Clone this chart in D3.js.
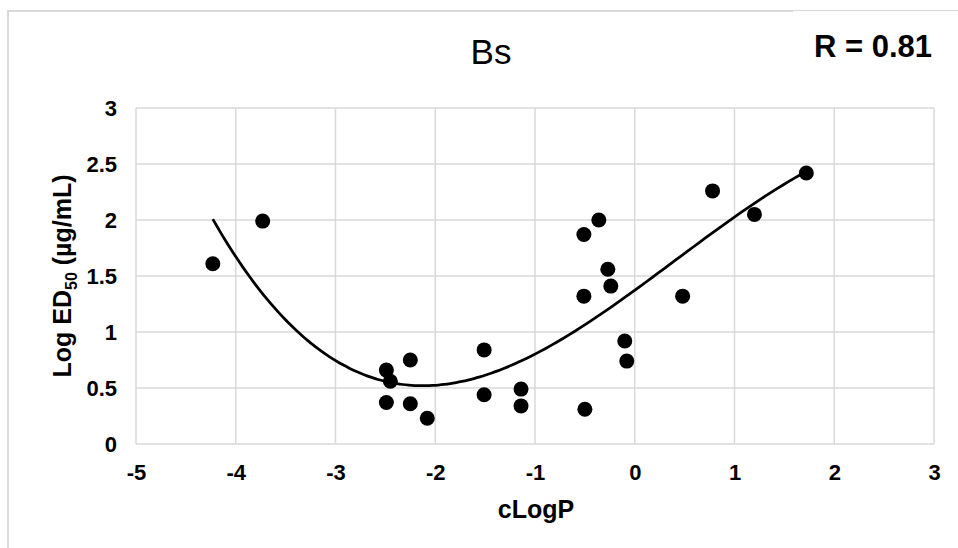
<!DOCTYPE html>
<html>
<head>
<meta charset="utf-8">
<script src="https://cdn.jsdelivr.net/npm/d3@7"></script>
<style>
  body { margin: 0; background: #fff; }
  svg { display: block; font-family: Arial, "Liberation Sans", sans-serif; }
</style>
</head>
<body>
<div id="chart"></div>
<script>
// cLogP vs Log ED50, Bs
var clogp = [-4.23, -3.73, -2.49, -2.45, -2.49, -2.25, -2.25, -2.08, -1.51, -1.51,
             -1.14, -1.14, -0.51, -0.36, -0.27, -0.24, -0.51, -0.10, -0.08, -0.50,
             0.48, 0.78, 1.20, 1.72];
var logED = [1.61, 1.99, 0.66, 0.56, 0.37, 0.75, 0.36, 0.23, 0.84, 0.44,
             0.49, 0.34, 1.87, 2.00, 1.56, 1.41, 1.32, 0.92, 0.74, 0.31,
             1.32, 2.26, 2.05, 2.42];
var xTicks = [-5, -4, -3, -2, -1, 0, 1, 2, 3];
var yTicks = [0, 0.5, 1, 1.5, 2, 2.5, 3];
var title = "Bs";
var rLabel = "R = 0.81";

var width = 958, height = 548;
var gridColor = "#d9d9d9";

var xScale = d3.scaleLinear().domain([-5, 3]).range([136, 934]);
var yScale = d3.scaleLinear().domain([0, 3]).range([444, 108]);

// cubic least-squares trendline (like the spreadsheet one)
function polyFit(xs, ys, order) {
  var n = order + 1, A = [], b = [];
  for (var i = 0; i < n; i++) {
    A.push([]);
    for (var j = 0; j < n; j++) A[i].push(d3.sum(xs, function(x) { return Math.pow(x, i + j); }));
    b.push(d3.sum(xs, function(x, k) { return ys[k] * Math.pow(x, i); }));
  }
  for (var c = 0; c < n; c++) {
    var p = c;
    for (var r = c + 1; r < n; r++) if (Math.abs(A[r][c]) > Math.abs(A[p][c])) p = r;
    var t = A[c]; A[c] = A[p]; A[p] = t; t = b[c]; b[c] = b[p]; b[p] = t;
    for (var r2 = c + 1; r2 < n; r2++) {
      var f = A[r2][c] / A[c][c];
      for (var k = c; k < n; k++) A[r2][k] -= f * A[c][k];
      b[r2] -= f * b[c];
    }
  }
  var coef = new Array(n);
  for (var r3 = n - 1; r3 >= 0; r3--) {
    var s = b[r3];
    for (var k2 = r3 + 1; k2 < n; k2++) s -= A[r3][k2] * coef[k2];
    coef[r3] = s / A[r3][r3];
  }
  return coef;
}
var coef = polyFit(clogp, logED, 3);
function trend(x) { return coef[0] + coef[1] * x + coef[2] * x * x + coef[3] * x * x * x; }
var xMin = d3.min(clogp), xMax = d3.max(clogp);
var trendPts = d3.range(0, 101).map(function(i) {
  var x = xMin + (xMax - xMin) * i / 100;
  return [x, trend(x)];
});

var svg = d3.select("#chart").append("svg")
  .attr("width", width)
  .attr("height", height);

svg.append("rect")
  .attr("width", width).attr("height", height)
  .attr("fill", "#fff");

// outer frame
svg.append("path")
  .attr("d", "M8,560 L8,11 L793,11")
  .attr("fill", "none")
  .attr("stroke", gridColor)
  .attr("stroke-width", 2);
svg.append("line")
  .attr("x1", 793).attr("x2", 958)
  .attr("y1", 10.5).attr("y2", 10.5)
  .attr("stroke", gridColor)
  .attr("stroke-width", 1);

// gridlines
svg.append("g").selectAll("line")
  .data(xTicks).enter().append("line")
  .attr("x1", function(d) { return xScale(d); })
  .attr("x2", function(d) { return xScale(d); })
  .attr("y1", yScale(0)).attr("y2", yScale(3))
  .attr("stroke", gridColor).attr("stroke-width", 1.5);
svg.append("g").selectAll("line")
  .data(yTicks).enter().append("line")
  .attr("x1", xScale(-5)).attr("x2", xScale(3))
  .attr("y1", function(d) { return yScale(d); })
  .attr("y2", function(d) { return yScale(d); })
  .attr("stroke", gridColor).attr("stroke-width", 1.5);

function plain(d) { return String(d); }  // keep ascii hyphen for negatives

// axes (labels only, lines are the grid)
svg.append("g")
  .attr("transform", "translate(0," + yScale(0) + ")")
  .call(d3.axisBottom(xScale).tickValues(xTicks).tickSize(0).tickPadding(20).tickFormat(plain))
  .call(function(g) {
    g.select(".domain").remove();
    g.selectAll("text")
      .style("font-size", "22px").style("font-weight", "bold")
      .style("font-family", "Arial, 'Liberation Sans', sans-serif")
      .attr("fill", "#000");
  });
svg.append("g")
  .attr("transform", "translate(" + xScale(-5) + ",0)")
  .call(d3.axisLeft(yScale).tickValues(yTicks).tickSize(0).tickPadding(19).tickFormat(plain))
  .call(function(g) {
    g.select(".domain").remove();
    g.selectAll("text")
      .style("font-size", "22px").style("font-weight", "bold")
      .style("font-family", "Arial, 'Liberation Sans', sans-serif")
      .attr("fill", "#000");
  });

// trendline
var line = d3.line()
  .x(function(d) { return xScale(d[0]); })
  .y(function(d) { return yScale(d[1]); })
  .curve(d3.curveBasis);
svg.append("path")
  .datum(trendPts)
  .attr("d", line)
  .attr("fill", "none")
  .attr("stroke", "#000")
  .attr("stroke-width", 2.75);

// points
svg.append("g").selectAll("circle")
  .data(clogp).enter().append("circle")
  .attr("cx", function(d) { return xScale(d); })
  .attr("cy", function(d, i) { return yScale(logED[i]); })
  .attr("r", 7.5)
  .attr("fill", "#000");

// titles
svg.append("text")
  .attr("x", 491).attr("y", 64)
  .attr("text-anchor", "middle")
  .style("font-size", "35px")
  .text(title);

svg.append("text")
  .attr("x", 932).attr("y", 57)
  .attr("text-anchor", "end")
  .style("font-size", "31px")
  .style("font-weight", "bold")
  .text(rLabel);

svg.append("text")
  .attr("x", 536).attr("y", 518)
  .attr("text-anchor", "middle")
  .style("font-size", "25px")
  .style("font-weight", "bold")
  .text("cLogP");

var yLab = svg.append("text")
  .attr("transform", "translate(71,276) rotate(-90)")
  .attr("text-anchor", "middle")
  .style("font-size", "25px")
  .style("font-weight", "bold");
yLab.append("tspan").text("Log ED");
yLab.append("tspan").attr("dy", 6).style("font-size", "16px").text("50");
yLab.append("tspan").attr("dy", -6).text(" (\u00b5g/mL)");
</script>
</body>
</html>
